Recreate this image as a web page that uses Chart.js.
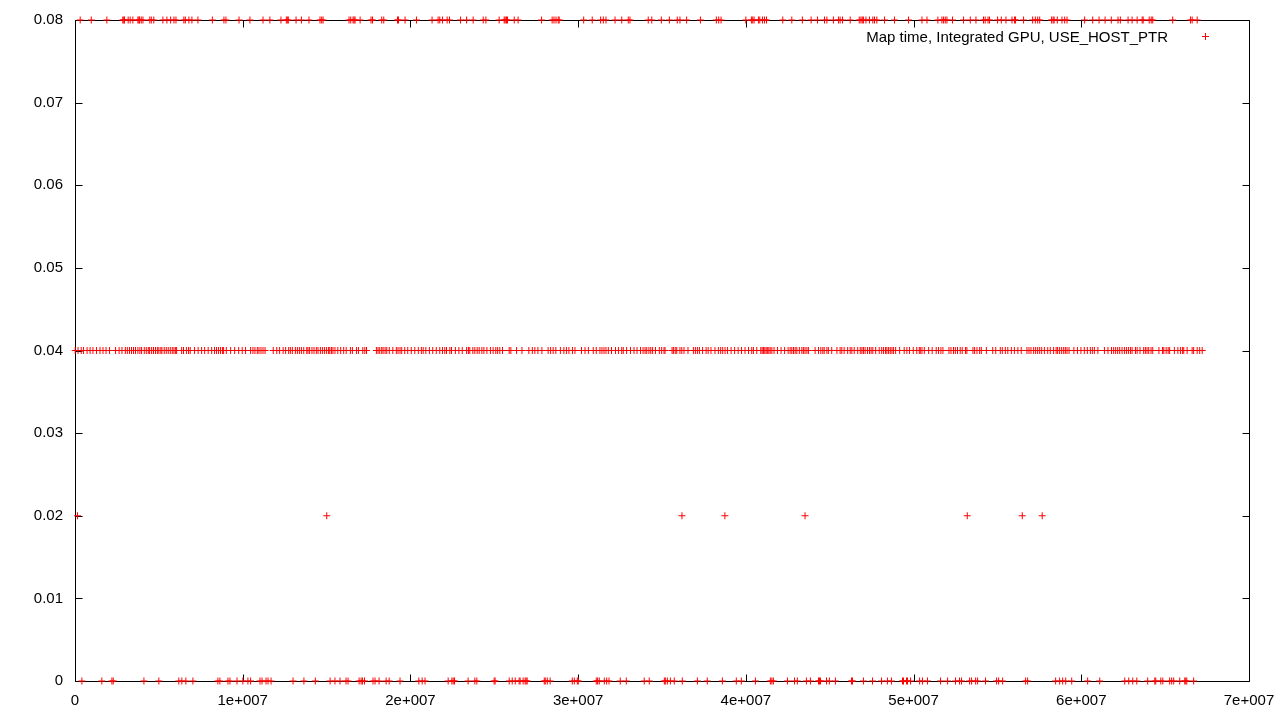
<!DOCTYPE html>
<html>
<head>
<meta charset="utf-8">
<script src="https://cdn.jsdelivr.net/npm/chart.js@4/dist/chart.umd.min.js"></script>
<style>
  html, body { margin: 0; padding: 0; background: #fff; }
  canvas { display: block; }
</style>
</head>
<body>
<canvas id="mapChart" width="1280" height="720"></canvas>
<script>
// x values are in millions (1e6), one array per y level
const seriesLabel = 'Map time, Integrated GPU, USE_HOST_PTR';

const xAt008 = [
  0.31, 0.97, 1.90, 2.85, 2.91, 2.95, 3.17, 3.29, 3.45, 3.75, 3.81, 3.85, 3.95, 4.05, 4.46, 4.55, 4.70, 5.24, 5.48, 5.70,
  5.90, 6.02, 6.49, 6.58, 6.79, 6.97, 7.33, 8.19, 8.88, 9.00, 9.78, 10.43, 11.21, 11.62, 12.28, 12.60, 12.66, 12.72, 13.18,
  13.50, 13.95, 14.61, 14.71, 14.79, 16.34, 16.44, 16.58, 16.64, 16.70, 17.00, 17.65, 17.74, 18.29, 18.41, 19.23, 19.29,
  19.68, 20.36, 21.29, 21.65, 21.75, 21.91, 22.19, 22.33, 22.99, 23.35,
  23.74, 24.34, 24.50, 25.29, 25.59, 25.65, 25.73, 25.79, 26.19, 26.42, 27.82, 28.45, 28.56, 28.68, 28.81, 28.87, 30.33,
  30.84, 31.34, 31.50, 31.66, 32.20, 32.60, 32.99, 33.09, 34.18, 34.39, 34.96, 35.44, 35.91, 36.07, 36.47, 37.29, 38.24,
  38.38, 38.52, 40.00, 40.33, 40.41, 40.49, 40.75, 40.83, 40.99, 41.11, 41.23, 42.20, 42.74, 43.37, 43.89, 44.27, 44.69,
  44.83, 45.22, 45.52, 45.62, 45.76, 46.22, 46.76,
  46.86, 46.94, 47.01, 47.16, 47.37, 47.57, 47.67, 47.81, 48.27, 48.86, 49.70, 50.50, 50.80, 51.45, 51.69, 51.79, 51.89,
  51.99, 52.32, 52.98, 53.38, 53.72, 54.17, 54.27, 54.44, 54.53, 55.01, 55.23, 55.51, 55.87, 56.02, 56.08, 56.56, 57.10,
  57.26, 57.40, 57.52, 58.23, 58.32, 58.38, 58.57, 58.85, 59.01, 59.15, 60.20, 60.68, 61.06, 61.42, 61.79, 62.19, 62.33,
  62.79, 63.03, 63.33, 63.63, 63.69, 64.05, 64.17, 64.26, 65.45, 66.51, 66.61, 66.91
];

const xAt004 = [
  0.01, 0.18, 0.37, 0.51, 0.72, 0.90, 1.07, 1.28, 1.49, 1.67, 1.85, 2.06, 2.42, 2.63, 2.80, 3.00, 3.12, 3.25, 3.37, 3.49,
  3.61, 3.75, 3.87, 3.97, 4.13, 4.25, 4.37, 4.45, 4.57, 4.68, 4.80, 4.91, 5.00, 5.12, 5.18, 5.32, 5.44, 5.56, 5.68, 5.80,
  5.90, 6.00, 6.06, 6.36, 6.47, 6.64, 6.77, 6.87, 7.13, 7.34, 7.55, 7.73, 7.94, 8.15, 8.32, 8.44, 8.56, 8.68, 8.80, 8.86,
  9.02, 9.28, 9.52, 9.76, 9.97, 10.17, 10.47, 10.61, 10.73, 10.87, 10.97, 11.09, 11.21, 11.33, 11.82, 12.03, 12.20, 12.41,
  12.56, 12.74, 12.84, 12.96, 13.14, 13.26, 13.38, 13.50, 13.64, 13.82, 13.89, 13.99, 14.13, 14.25, 14.39, 14.49, 14.63,
  14.75, 14.87, 14.99, 15.11, 15.19, 15.29, 15.38, 15.50, 15.67, 15.84, 16.02, 16.17, 16.42, 16.54, 16.78, 16.90, 17.16,
  17.28, 17.38, 17.97, 18.07, 18.17, 18.29, 18.37, 18.49, 18.59, 18.74, 18.95, 19.16, 19.26, 19.38, 19.48, 19.66, 19.84,
  20.05, 20.26, 20.47, 20.65, 20.76, 20.92, 21.13, 21.33, 21.54, 21.75, 21.91, 22.05, 22.15, 22.35, 22.45, 22.68, 22.89,
  23.09, 23.35, 23.46,
  23.54, 23.72, 23.84, 23.98, 24.10, 24.26, 24.38, 24.56, 24.77, 24.93, 25.09, 25.20, 25.33, 25.49, 25.89, 25.99, 26.33,
  26.65, 27.06, 27.27, 27.42, 27.60, 27.84, 28.21, 28.36, 28.51, 28.67, 28.94, 29.15, 29.30, 29.45, 29.66, 29.81, 30.20,
  30.41, 30.61, 30.90, 31.08, 31.30, 31.42, 31.54, 31.66, 31.80, 31.99, 32.23, 32.40, 32.60, 32.69, 32.89, 33.12, 33.33,
  33.51, 33.72, 33.87, 33.99, 34.09, 34.22, 34.33, 34.44, 34.61, 34.84, 34.98, 35.12, 35.18, 35.60, 35.68, 35.79, 35.88,
  36.07, 36.18, 36.31, 36.55, 36.87, 36.99, 37.11, 37.23, 37.42, 37.63, 37.75, 37.92, 38.16, 38.36, 38.50, 38.62, 38.76,
  38.91, 39.12, 39.33, 39.54, 39.74, 39.95, 40.16, 40.35, 40.45, 40.65, 40.89, 40.97, 41.05, 41.13, 41.21, 41.28, 41.37,
  41.45, 41.55, 41.68, 41.89, 42.10, 42.31, 42.52, 42.64, 42.74, 42.84, 42.94, 43.04, 43.19, 43.34, 43.43, 43.53, 43.64,
  43.73, 44.13, 44.33, 44.47, 44.59, 44.67, 44.83, 44.92, 45.12, 45.43, 45.62, 45.72, 45.86, 46.07, 46.22, 46.32, 46.46,
  46.67,
  46.82, 46.92, 47.01, 47.11, 47.25, 47.37, 47.47, 47.57, 47.74, 47.95, 48.10, 48.21, 48.33, 48.41, 48.51, 48.61, 48.71,
  48.80, 48.93, 49.17, 49.44, 49.60, 49.76, 49.98, 50.19, 50.34, 50.40, 50.50, 50.64, 50.90, 51.11, 51.35, 51.49, 51.63,
  51.75, 52.11, 52.23, 52.38, 52.49, 52.62, 52.78, 52.90, 53.10, 53.18, 53.54, 53.64, 53.78, 53.94, 54.04, 54.34, 54.72,
  54.90, 55.17, 55.29, 55.47, 55.62, 55.83, 56.01, 56.22, 56.42, 56.76, 56.88, 57.00, 57.16, 57.28, 57.40, 57.52, 57.64,
  57.80, 58.00, 58.15, 58.35, 58.50, 58.59, 58.71, 58.83, 58.95, 59.05, 59.15, 59.27, 59.56, 59.77, 59.98, 60.18, 60.36,
  60.54, 60.66, 60.78, 60.99, 61.38, 61.59, 61.80, 61.93, 62.05, 62.17, 62.29, 62.43, 62.57, 62.69, 62.81, 62.93, 63.03,
  63.23, 63.33, 63.50, 63.72, 63.82, 63.92, 64.02, 64.16, 64.26, 64.63, 64.84, 64.92, 65.06, 65.18, 65.27, 65.55, 65.76,
  65.91, 66.03, 66.11, 66.31, 66.61, 66.70, 66.91, 67.06, 67.21
];

const xAt002 = [0.15, 15.01, 36.19, 38.75, 43.53, 53.20, 56.48, 57.67];

const xAt000 = [
  0.41, 1.60, 2.20, 2.28, 4.11, 5.00, 6.19, 6.37, 6.61, 7.03, 8.52, 8.64, 9.12, 9.24, 9.66, 10.01, 10.31, 10.47, 11.03,
  11.15, 11.39, 11.51, 11.69, 13.00, 13.65, 14.33, 15.21, 15.50, 15.80, 16.16, 16.28, 16.94, 17.06, 17.14, 17.26, 17.77,
  17.89, 18.13, 18.55, 18.73, 19.38, 20.50, 20.70, 20.87, 22.25, 22.47, 22.55, 22.63, 23.44,
  23.84, 23.96, 24.99, 25.05, 25.89, 26.07, 26.25, 26.48, 26.54, 26.72, 26.84, 26.90, 26.96, 27.98, 28.04, 28.16, 28.33,
  29.65, 29.77, 29.95, 30.01, 31.08, 31.16, 31.26, 31.56, 31.70, 31.84, 32.51, 32.87, 33.94, 34.24, 35.14, 35.20, 35.32,
  35.50, 35.73, 36.21, 37.11, 37.70, 38.60, 39.43, 39.73, 40.57, 41.46, 41.55, 41.64, 42.48, 42.90, 43.07, 43.61, 43.85,
  44.33, 44.39, 44.45, 44.81, 44.98, 45.34, 46.30, 46.36,
  47.01, 47.55, 48.09, 48.44, 48.68, 49.34, 49.40, 49.58, 49.64, 49.82, 50.36, 50.53, 50.83, 51.61, 52.03, 52.50, 52.74,
  52.86, 53.34, 53.46, 53.70, 53.82, 54.29, 54.95, 55.07, 55.31, 56.68, 56.80, 58.47, 58.71, 58.89, 59.07, 59.43, 60.38,
  61.10, 62.59, 62.83, 63.07, 63.31, 63.96, 64.38, 64.44, 64.74, 64.86, 65.27, 65.39, 65.51, 65.87, 66.17, 66.23, 66.29,
  66.70
];

const xTickLabels = ['0', '1e+007', '2e+007', '3e+007', '4e+007', '5e+007', '6e+007', '7e+007'];
const yTickLabels = ['0', '0.01', '0.02', '0.03', '0.04', '0.05', '0.06', '0.07', '0.08'];

function toPoints(xs, level) {
  return xs.map(v => ({ x: v * 1e6, y: level }));
}

const points = [].concat(
  toPoints(xAt008, 0.08),
  toPoints(xAt004, 0.04),
  toPoints(xAt002, 0.02),
  toPoints(xAt000, 0)
);

const FONT = '"Liberation Sans", Arial, sans-serif';
const TIC = 7;

// gnuplot style box with inward ticks on all four sides + legend in the top right
const gnuplotFrame = {
  id: 'gnuplotFrame',
  beforeDatasetsDraw(chart) {
    const { ctx, chartArea: a, scales } = chart;
    const L = a.left + 0.5, R = a.right + 0.5, T = a.top + 0.5, B = a.bottom + 0.5;
    ctx.save();
    ctx.strokeStyle = '#000';
    ctx.lineWidth = 1;
    ctx.beginPath();
    ctx.rect(L, T, R - L, B - T);
    scales.x.ticks.forEach(t => {
      const px = Math.round(scales.x.getPixelForValue(t.value)) + 0.5;
      ctx.moveTo(px, B); ctx.lineTo(px, B - TIC);
      ctx.moveTo(px, T); ctx.lineTo(px, T + TIC);
    });
    scales.y.ticks.forEach(t => {
      const py = Math.round(scales.y.getPixelForValue(t.value)) + 0.5;
      ctx.moveTo(L, py); ctx.lineTo(L + TIC, py);
      ctx.moveTo(R, py); ctx.lineTo(R - TIC, py);
    });
    ctx.stroke();
    ctx.restore();
  },
  afterDatasetsDraw(chart) {
    const { ctx, chartArea: a } = chart;
    const ty = a.top + 21.5;
    ctx.save();
    ctx.font = '15px ' + FONT;
    ctx.fillStyle = '#000';
    ctx.textAlign = 'right';
    ctx.textBaseline = 'alphabetic';
    ctx.fillText(seriesLabel, a.right - 81, ty);
    // sample marker
    const mx = a.right - 43.5, my = a.top + 16.5;
    ctx.strokeStyle = '#ff0000';
    ctx.lineWidth = 1;
    ctx.beginPath();
    ctx.moveTo(mx - 3.5, my); ctx.lineTo(mx + 3.5, my);
    ctx.moveTo(mx, my - 3.5); ctx.lineTo(mx, my + 3.5);
    ctx.stroke();
    ctx.restore();
  }
};

Chart.defaults.font.family = FONT;
Chart.defaults.font.size = 15;
Chart.defaults.color = '#000';

new Chart(document.getElementById('mapChart'), {
  type: 'scatter',
  data: {
    datasets: [{
      label: seriesLabel,
      data: points,
      pointStyle: 'cross',
      radius: 3.5,
      borderWidth: 1,
      borderColor: '#ff0000',
      backgroundColor: '#ff0000',
      clip: false
    }]
  },
  options: {
    responsive: false,
    animation: false,
    events: [],
    devicePixelRatio: 1,
    layout: { padding: { left: 0, right: 31, top: 20, bottom: 0 } },
    plugins: {
      legend: { display: false },
      tooltip: { enabled: false }
    },
    scales: {
      x: {
        type: 'linear',
        min: 0,
        max: 7e7,
        afterFit(scale) {
          scale.height = 39;
          // labels may overflow into the page margin, like gnuplot
          scale.paddingLeft = 0;
          scale.paddingRight = 0;
        },
        grid: { display: false, drawTicks: false },
        border: { display: false },
        ticks: {
          stepSize: 1e7,
          padding: 11,
          maxRotation: 0,
          callback: (v, i) => xTickLabels[i]
        }
      },
      y: {
        type: 'linear',
        min: 0,
        max: 0.08,
        afterFit(scale) {
          scale.width = 75;
          scale.paddingTop = 0;
          scale.paddingBottom = 0;
        },
        grid: { display: false, drawTicks: false },
        border: { display: false },
        ticks: {
          stepSize: 0.01,
          padding: 12,
          callback: (v, i) => yTickLabels[i]
        }
      }
    }
  },
  plugins: [gnuplotFrame]
});
</script>
</body>
</html>
